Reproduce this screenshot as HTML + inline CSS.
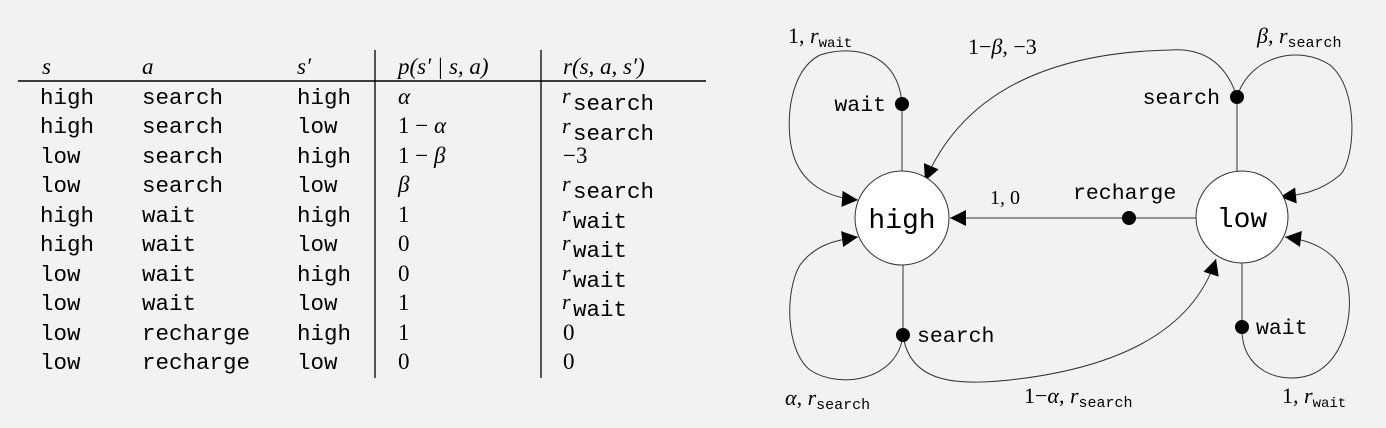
<!DOCTYPE html>
<html><head><meta charset="utf-8"><style>
html,body{margin:0;padding:0;background:#f2f2f2;}
svg{display:block}
.m{font-family:"Liberation Mono",monospace;}
.s{font-family:"Liberation Serif",serif;}
</style></head><body>
<svg width="1386" height="428" viewBox="0 0 1386 428" xmlns="http://www.w3.org/2000/svg">
<defs>
<marker id="ah" viewBox="0 0 10 10" refX="10" refY="5" markerWidth="24" markerHeight="16" markerUnits="userSpaceOnUse" orient="auto">
<path d="M0,0 L10,5 L0,10 z" fill="#000"/></marker>
</defs>
<g class="s" font-size="23" font-style="italic" fill="#000">
<text x="42" y="74">s</text>
<text x="142" y="74">a</text>
<text x="297" y="74">s′</text>
<text x="398" y="74">p(s′ | s, a)</text>
<text x="563" y="74">r(s, a, s′)</text>
</g>
<line x1="18" y1="81" x2="706" y2="81" stroke="#000" stroke-width="1.5"/>
<line x1="375" y1="50" x2="375" y2="378" stroke="#000" stroke-width="1.3"/>
<line x1="541" y1="50" x2="541" y2="378" stroke="#000" stroke-width="1.3"/>
<g class="m" font-size="22.5" fill="#000">
<text x="40" y="104">high</text><text x="142" y="104">search</text><text x="297" y="104">high</text>
<text x="40" y="133">high</text><text x="142" y="133">search</text><text x="297" y="133">low</text>
<text x="40" y="163">low</text><text x="142" y="163">search</text><text x="297" y="163">high</text>
<text x="40" y="192">low</text><text x="142" y="192">search</text><text x="297" y="192">low</text>
<text x="40" y="222">high</text><text x="142" y="222">wait</text><text x="297" y="222">high</text>
<text x="40" y="251">high</text><text x="142" y="251">wait</text><text x="297" y="251">low</text>
<text x="40" y="281">low</text><text x="142" y="281">wait</text><text x="297" y="281">high</text>
<text x="40" y="310">low</text><text x="142" y="310">wait</text><text x="297" y="310">low</text>
<text x="40" y="340">low</text><text x="142" y="340">recharge</text><text x="297" y="340">high</text>
<text x="40" y="369">low</text><text x="142" y="369">recharge</text><text x="297" y="369">low</text>
</g>
<g class="s" font-size="23" fill="#000">
<text x="398" y="104" font-style="italic">α</text>
<text x="398" y="133">1 − <tspan font-style="italic">α</tspan></text>
<text x="398" y="163">1 − <tspan font-style="italic">β</tspan></text>
<text x="398" y="192" font-style="italic">β</text>
<text x="398" y="222">1</text><text x="398" y="251">0</text><text x="398" y="281">0</text>
<text x="398" y="310">1</text><text x="398" y="340">1</text><text x="398" y="369">0</text>
<text x="563" y="163">−3</text><text x="563" y="340">0</text><text x="563" y="369">0</text>
</g>
<g fill="#000">
<text x="562" y="103" class="s" font-size="22" font-style="italic">r</text><text x="573" y="110" class="m" font-size="22.5">search</text>
<text x="562" y="133" class="s" font-size="22" font-style="italic">r</text><text x="573" y="140" class="m" font-size="22.5">search</text>
<text x="562" y="191" class="s" font-size="22" font-style="italic">r</text><text x="573" y="198" class="m" font-size="22.5">search</text>
<text x="562" y="221" class="s" font-size="22" font-style="italic">r</text><text x="573" y="228" class="m" font-size="22.5">wait</text>
<text x="562" y="250" class="s" font-size="22" font-style="italic">r</text><text x="573" y="257" class="m" font-size="22.5">wait</text>
<text x="562" y="280" class="s" font-size="22" font-style="italic">r</text><text x="573" y="287" class="m" font-size="22.5">wait</text>
<text x="562" y="309" class="s" font-size="22" font-style="italic">r</text><text x="573" y="316" class="m" font-size="22.5">wait</text>
</g>
<g fill="none" stroke="#333" stroke-width="1">
<line x1="902" y1="104" x2="902" y2="171"/>
<line x1="903" y1="265" x2="903" y2="335"/>
<line x1="1237" y1="97" x2="1237" y2="172"/>
<line x1="1242" y1="263" x2="1242" y2="327"/>
<line x1="1196" y1="218" x2="950" y2="218" marker-end="url(#ah)"/>
<path d="M902,104 C898,50 850,45 820,55 C790,70 785,120 792,150 C800,185 830,198 858,200" marker-end="url(#ah)"/>
<path d="M1237,97 C1225,60 1200,48 1170,50 C1080,52 970,75 925,181" marker-end="url(#ah)"/>
<path d="M1237,97 C1250,55 1300,45 1330,65 C1360,90 1355,160 1340,175 C1320,192 1300,195 1280,197" marker-end="url(#ah)"/>
<path d="M903,335 C898,380 840,390 810,370 C785,350 785,290 800,265 C815,245 835,240 858,237" marker-end="url(#ah)"/>
<path d="M903,335 C910,385 960,385 1010,380 C1100,370 1190,340 1216,259" marker-end="url(#ah)"/>
<path d="M1242,327 C1240,370 1280,385 1310,375 C1350,360 1355,300 1345,275 C1335,250 1310,240 1285,237" marker-end="url(#ah)"/>
</g>
<circle cx="902" cy="218" r="47" fill="#fff" stroke="#333" stroke-width="1"/>
<circle cx="1242" cy="217" r="46" fill="#fff" stroke="#333" stroke-width="1"/>
<g fill="#000">
<circle cx="902" cy="104" r="7"/><circle cx="1237" cy="97" r="7"/>
<circle cx="1129" cy="218" r="7"/><circle cx="903" cy="335" r="7"/>
<circle cx="1242" cy="327" r="7"/>
</g>
<g class="m" fill="#000">
<text x="902" y="228" font-size="28" text-anchor="middle">high</text>
<text x="1242" y="227" font-size="28" text-anchor="middle">low</text>
<text x="1073" y="199" font-size="21.5">recharge</text>
<text x="1220" y="104" font-size="21.5" text-anchor="end">search</text>
<text x="886" y="111" font-size="21.5" text-anchor="end">wait</text>
<text x="917" y="342" font-size="21.5">search</text>
<text x="1256" y="334" font-size="21.5">wait</text>
</g>
<g class="s" font-size="22" fill="#000">
<text x="788" y="43">1, <tspan font-style="italic">r</tspan><tspan class="m" font-size="14" dy="4">wait</tspan></text>
<text x="968" y="54">1−<tspan font-style="italic">β</tspan>, −3</text>
<text x="1257" y="43"><tspan font-style="italic">β</tspan>, <tspan font-style="italic">r</tspan><tspan class="m" font-size="15" dy="4">search</tspan></text>
<text x="990" y="204" font-size="20">1,  0</text>
<text x="785" y="405"><tspan font-style="italic">α</tspan>, <tspan font-style="italic">r</tspan><tspan class="m" font-size="15" dy="4">search</tspan></text>
<text x="1024" y="403">1−<tspan font-style="italic">α</tspan>, <tspan font-style="italic">r</tspan><tspan class="m" font-size="15" dy="4">search</tspan></text>
<text x="1282" y="403">1, <tspan font-style="italic">r</tspan><tspan class="m" font-size="14" dy="4">wait</tspan></text>
</g>
</svg>
</body></html>
